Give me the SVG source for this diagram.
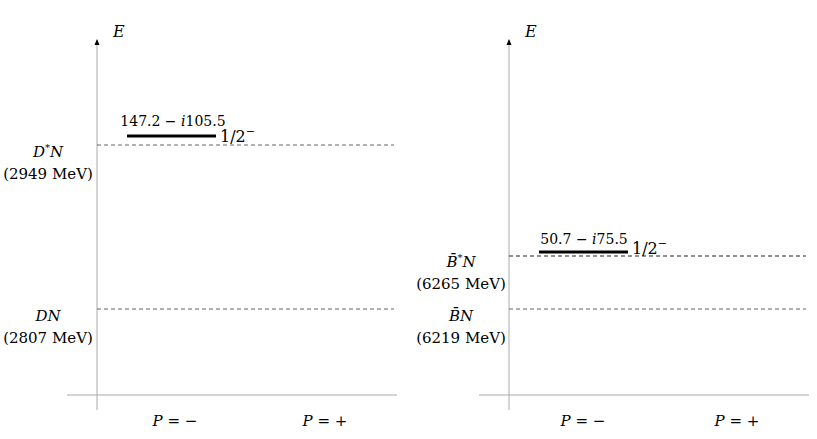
<svg xmlns="http://www.w3.org/2000/svg" width="817" height="439" viewBox="0 0 817 439">
<style>
text{font-family:'DejaVu Serif','Liberation Serif',serif;font-size:15px;fill:#000}
.it{font-style:italic}
.sm{font-size:14px}
.lg{font-size:16px}
.ax{stroke:#aaa;stroke-width:1;fill:none}
.th{stroke:#666;stroke-width:1;stroke-dasharray:4 3;fill:none}
.thd{stroke:#222;stroke-width:1.2;stroke-dasharray:4 3;fill:none}
.bar{stroke:#000;stroke-width:3}
.m{text-anchor:middle}
</style>
<defs>
<marker id="arr" markerWidth="6" markerHeight="6" refX="5" refY="3" orient="auto" markerUnits="userSpaceOnUse">
<path d="M0,0.5 L6,3 L0,5.5 Z" fill="#000"/>
</marker>
</defs>
<g id="connectors">
<line class="ax" x1="97" y1="410" x2="97" y2="40" marker-end="url(#arr)"/>
<line class="ax" x1="67" y1="395" x2="397" y2="395"/>
<line class="th" x1="97" y1="145" x2="394" y2="145"/>
<line class="th" x1="97" y1="309" x2="394" y2="309"/>
<line class="ax" x1="509" y1="410" x2="509" y2="40" marker-end="url(#arr)"/>
<line class="ax" x1="479" y1="395" x2="809" y2="395"/>
<line class="thd" x1="509" y1="256" x2="806" y2="256"/>
<line class="th" x1="509" y1="309" x2="806" y2="309"/>
</g>
<g id="left-axis-labels">
<text class="it lg" x="113" y="37">E</text>
<text class="m" x="175" y="426"><tspan class="it">P</tspan> = −</text>
<text class="m" x="325" y="426"><tspan class="it">P</tspan> = +</text>
</g>
<g id="DstarN">
<text class="m" x="48" y="157"><tspan class="it">D</tspan><tspan dy="-6" font-size="10">*</tspan><tspan class="it" dy="6">N</tspan></text>
<text class="m" x="48" y="179">(2949 MeV)</text>
</g>
<g id="DN">
<text class="m" x="48" y="321"><tspan class="it">DN</tspan></text>
<text class="m" x="48" y="343">(2807 MeV)</text>
</g>
<g id="pole-D">
<line class="bar" x1="127" y1="136" x2="216" y2="136"/>
<text class="m sm" x="173" y="126">147.2 − <tspan class="it">i</tspan>105.5</text>
<text class="lg" x="220" y="142">1/2<tspan dy="-7" font-size="11">−</tspan></text>
</g>
<g id="right-axis-labels">
<text class="it lg" x="525" y="37">E</text>
<text class="m" x="583" y="426"><tspan class="it">P</tspan> = −</text>
<text class="m" x="737" y="426"><tspan class="it">P</tspan> = +</text>
</g>
<g id="BstarN">
<text class="m" x="461" y="267"><tspan class="it">B̄</tspan><tspan dy="-6" font-size="10">*</tspan><tspan class="it" dy="6">N</tspan></text>
<text class="m" x="461" y="289">(6265 MeV)</text>
</g>
<g id="BN">
<text class="m" x="461" y="321"><tspan class="it">B̄N</tspan></text>
<text class="m" x="461" y="343">(6219 MeV)</text>
</g>
<g id="pole-B">
<line class="bar" x1="539" y1="252" x2="628" y2="252"/>
<text class="m sm" x="584" y="244">50.7 − <tspan class="it">i</tspan>75.5</text>
<text class="lg" x="632" y="254">1/2<tspan dy="-7" font-size="11">−</tspan></text>
</g>
</svg>
